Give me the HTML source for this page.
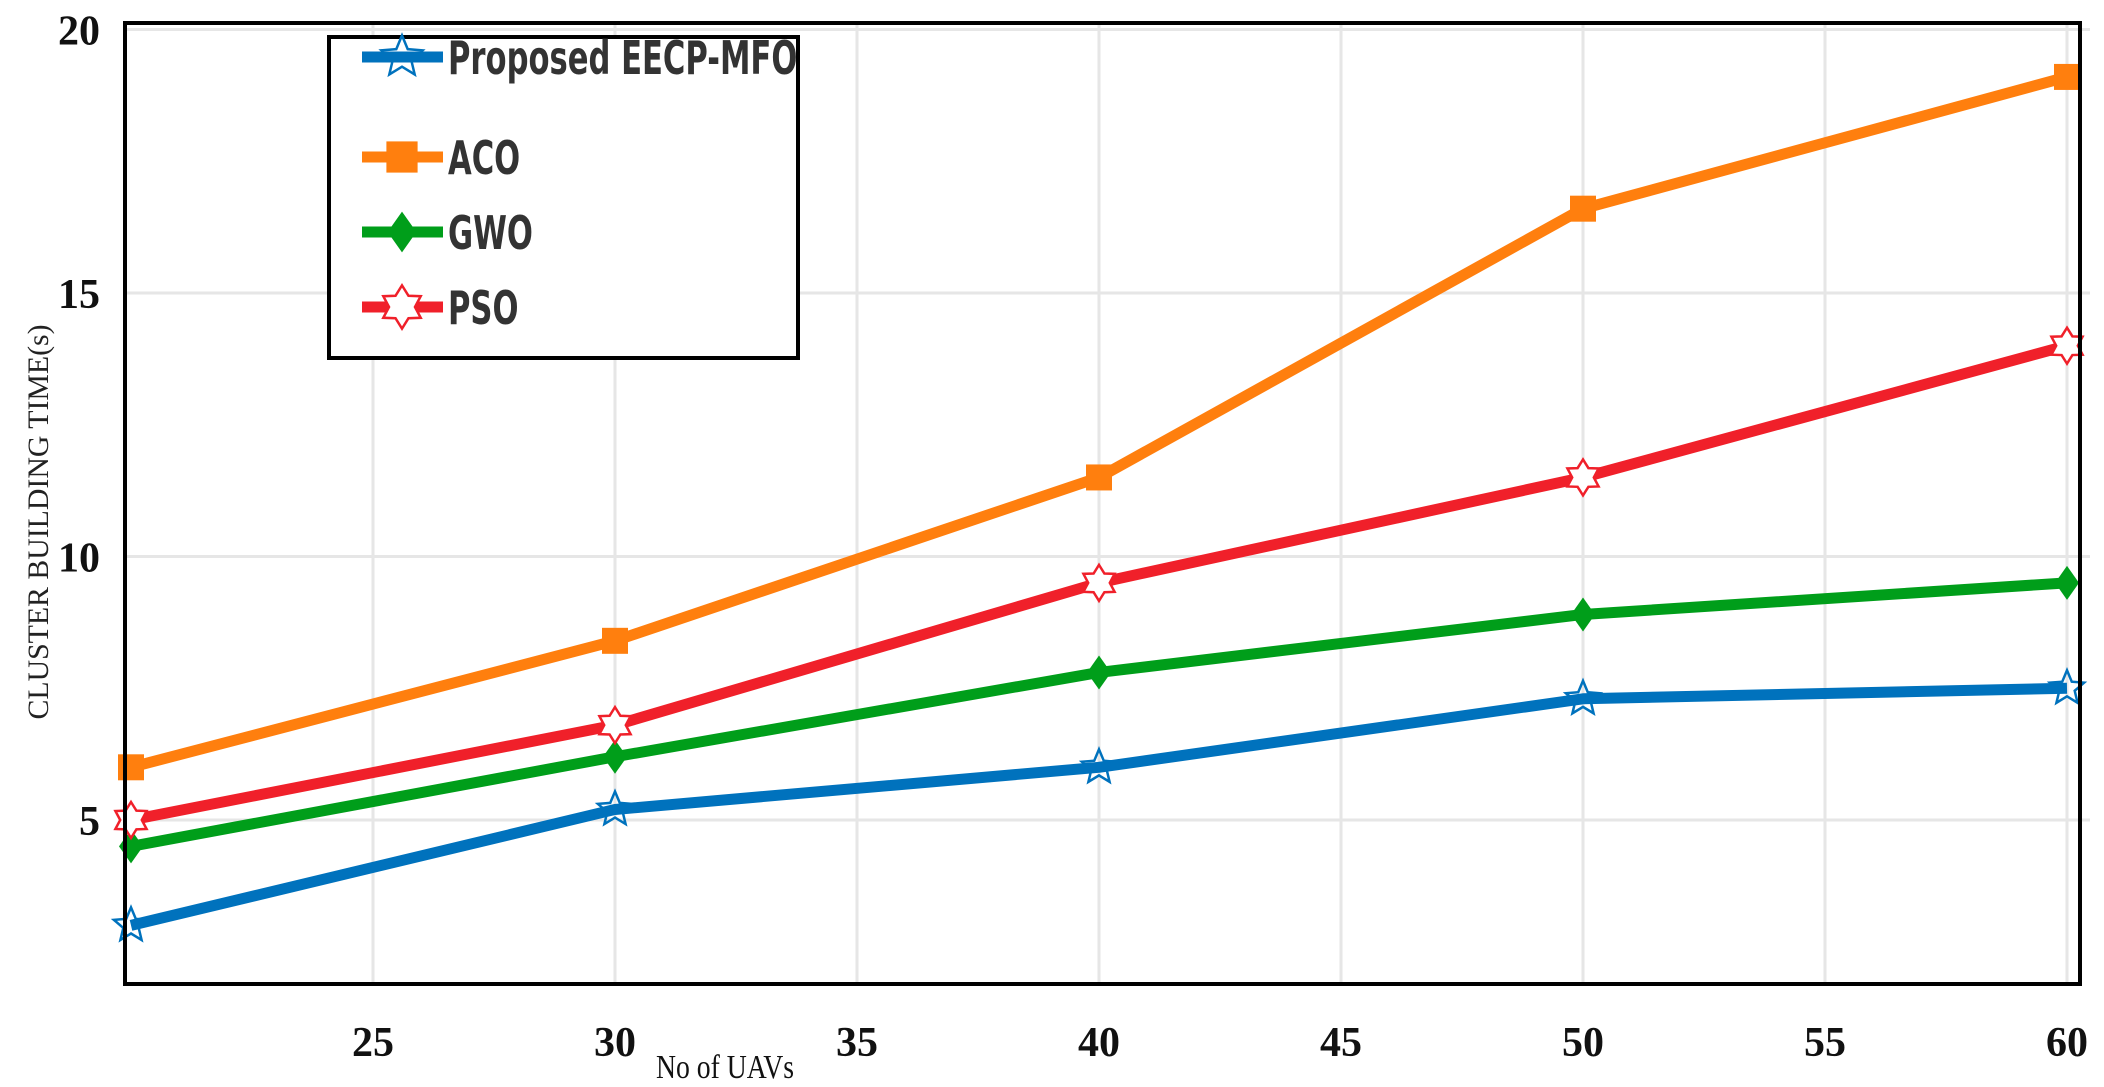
<!DOCTYPE html>
<html><head><meta charset="utf-8"><style>
body{margin:0;background:#fff;}
svg{display:block;}
</style></head><body>
<svg id="chart" width="2104" height="1087" viewBox="0 0 2104 1087" xmlns="http://www.w3.org/2000/svg"></svg>
<script>
const categories=[20,30,40,50,60];
const eecp=[3.0,5.2,6.0,7.3,7.5];
const aco=[6.0,8.4,11.5,16.6,19.1];
const gwo=[4.5,6.2,7.8,8.9,9.5];
const pso=[5.0,6.8,9.5,11.5,14.0];
const xTicks=[25,30,35,40,45,50,55,60];
const yTicks=[5,10,15,20];
const NS='http://www.w3.org/2000/svg';
const svg=document.getElementById('chart');
const L=125,R=2080,T=23,B=984;
function X(v){return 131+(v-20)*(2067-131)/40;}
function Y(v){return 820-(v-5)*52.7;}
function mk(tag,attrs,parent){const e=document.createElementNS(NS,tag);for(const k in attrs)e.setAttribute(k,attrs[k]);(parent||svg).appendChild(e);return e;}
xTicks.forEach(t=>{const g=mk('line',{x1:X(t),x2:X(t),y1:T,y2:B,stroke:'#e6e6e6','stroke-width':3});

});
yTicks.forEach(t=>{const g=mk('line',{x1:L,x2:R+10,y1:Y(t),y2:Y(t),stroke:'#e6e6e6','stroke-width':3});

});
xTicks.forEach(t=>{const e=mk('text',{x:X(t),y:1056,'text-anchor':'middle','font-family':'Liberation Serif, serif','font-weight':'bold','font-size':42,fill:'#111'});e.textContent=t;

});
yTicks.forEach(t=>{const e=mk('text',{x:100,y:Y(t)+15,'text-anchor':'end','font-family':'Liberation Serif, serif','font-weight':'bold','font-size':42,fill:'#111'});e.textContent=t;

});
const series=[
 {name:'eecp',data:eecp,color:'#0072bd',marker:'star'},
 {name:'aco',data:aco,color:'#ff7f0e',marker:'square'},
 {name:'gwo',data:gwo,color:'#009e1a',marker:'diamond'},
 {name:'pso',data:pso,color:'#f0202a',marker:'hex'}];
function star(cx,cy,r){let p='';for(let i=0;i<10;i++){const a=-Math.PI/2+i*Math.PI/5;const rr=i%2?r*0.45:r;p+=(cx+rr*Math.cos(a))+','+(cy+rr*Math.sin(a))+' ';}return p;}
function hex(cx,cy,r){let p='';for(let i=0;i<12;i++){const a=-Math.PI/2+i*Math.PI/6;const rr=i%2?r*0.6:r;p+=(cx+rr*Math.cos(a))+','+(cy+rr*Math.sin(a))+' ';}return p;}
function marker(s,cx,cy,parent,scale){
 scale=scale||1;let m;
 if(s.marker==='star')m=mk('polygon',{points:star(cx,cy,18*scale),fill:'none',stroke:s.color,'stroke-width':2.5},parent);
 else if(s.marker==='hex')m=mk('polygon',{points:hex(cx,cy,18*scale),fill:'#fff',stroke:s.color,'stroke-width':2.5},parent);
 else if(s.marker==='square')m=mk('rect',{x:cx-13*scale,y:cy-13*scale,width:26*scale,height:26*scale,fill:s.color},parent);
 else m=mk('polygon',{points:`${cx},${cy-17*scale} ${cx+12*scale},${cy} ${cx},${cy+17*scale} ${cx-12*scale},${cy}`,fill:s.color},parent);
 return m;}
series.forEach(s=>{
 const g=mk('g',{});
 
 
 const pts=s.data.map((v,i)=>X(categories[i])+','+Y(v)).join(' ');
 const pl=mk('polyline',{points:pts,fill:'none',stroke:s.color,'stroke-width':11,'stroke-linejoin':'round'},g);
 
 
 s.data.forEach((v,i)=>{const m=marker(s,X(categories[i]),Y(v),g);
 
 });
});
const fr=mk('rect',{x:L,y:T,width:R-L,height:B-T,fill:'none',stroke:'#000','stroke-width':4});


const lg=mk('g',{});


mk('rect',{x:329,y:37,width:469,height:321,fill:'#fff',stroke:'#000','stroke-width':4},lg);
const names=['Proposed EECP-MFO','ACO','GWO','PSO'];
const ly=[57,157,232,307];
series.forEach((s,i)=>{
 const e=mk('g',{},lg);
 
 
 mk('line',{x1:362,x2:443,y1:ly[i],y2:ly[i],stroke:s.color,'stroke-width':11},e);
 marker(s,402,ly[i],e,1.2);
 const t=mk('text',{x:0,y:0,'font-family':'DejaVu Sans Condensed, DejaVu Sans, sans-serif','font-weight':'bold','font-size':46,fill:'#333',transform:`translate(448,${ly[i]+17}) scale(0.74,1)`},e);
 t.textContent=names[i];
});
const xt=mk('text',{x:725,y:1078,'text-anchor':'middle','font-family':'Liberation Serif, serif','font-size':34,fill:'#111',textLength:138,lengthAdjust:'spacingAndGlyphs'});
xt.textContent='No of UAVs';


const yt=mk('text',{x:0,y:0,'text-anchor':'middle','font-family':'Liberation Serif, serif','font-size':30,fill:'#222',transform:'translate(48,522) rotate(-90)',textLength:395,lengthAdjust:'spacingAndGlyphs'});
yt.textContent='CLUSTER BUILDING TIME(s)';


</script>
</body></html>
